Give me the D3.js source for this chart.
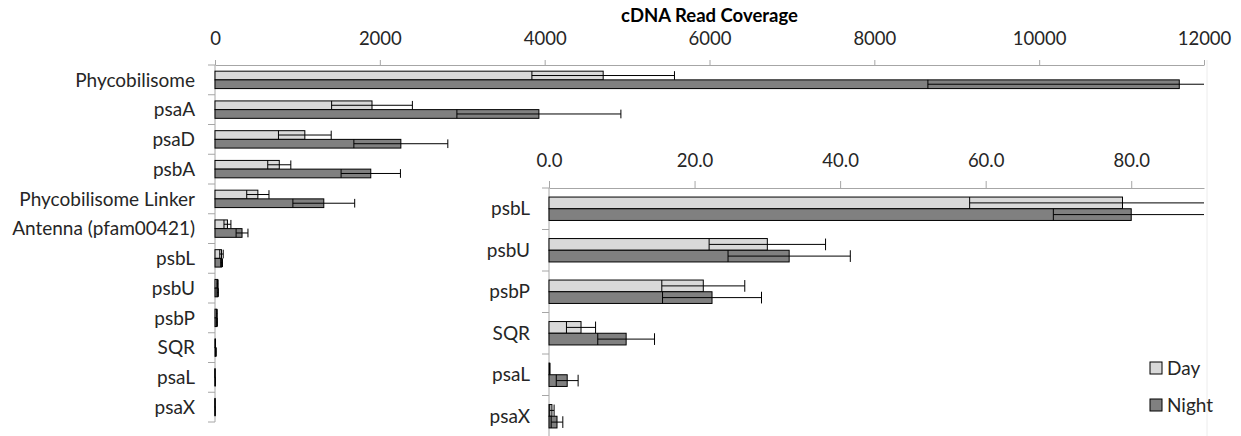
<!DOCTYPE html>
<html>
  <head>
    <meta charset="utf-8">
    <title>cDNA read coverage</title>
    <script src="https://cdn.jsdelivr.net/npm/d3@7"></script>
    <style>
      body { margin: 0; background: #fff; }
      svg { display: block; font-family: Lato, "Open Sans", sans-serif; }
      .label { font-size: 19px; fill: #262626; }
      .axis path, .axis line { stroke: #a6a6a6; }
      .axis text { font-size: 18.5px; fill: #262626; font-family: Lato, "Open Sans", sans-serif; }
      .title { font-size: 18.5px; font-weight: bold; fill: #000; }
    </style>
  </head>
  <body>
    <svg id="chart" width="1241" height="436"></svg>
    <script>
      // chart data
      var categories = ["Phycobilisome", "psaA", "psaD", "psbA", "Phycobilisome Linker", "Antenna (pfam00421)",
        "psbL", "psbU", "psbP", "SQR", "psaL", "psaX"];
      var dayMean = [4710, 1905, 1090, 780, 520, 151, 78.8, 30.0, 21.2, 4.4, 0.1, 0.4];
      var dayErr = [865, 490, 320, 140, 135, 42, 21, 8, 5.7, 2, 0, 0.3];
      var nightMean = [11700, 3930, 2255, 1890, 1320, 328, 80, 33, 22.4, 10.6, 2.5, 1.1];
      var nightErr = [3050, 995, 570, 360, 375, 72, 10.7, 8.4, 6.8, 3.9, 1.5, 0.8];
      var insetCategories = ["psbL", "psbU", "psbP", "SQR", "psaL", "psaX"];
      var mainTicks = [0, 2000, 4000, 6000, 8000, 10000, 12000];
      var insetTicks = [0, 20, 40, 60, 80];
      var seriesNames = ["Day", "Night"];
      var seriesColours = ["#d9d9d9", "#808080"];

      var rows = categories.map(function(c, i) {
        return { name: c, day: dayMean[i], dayErr: dayErr[i], night: nightMean[i], nightErr: nightErr[i] };
      });

      var svg = d3.select("#chart");

      // draw one bar panel (bars, error bars, axes)
      function panel(g, data, x, y, barH, labelPad, tickSize, tickPad, fmt, ticks) {
        var top = y.range()[0], bottom = y.range()[1];
        // top axis
        g.append("g")
          .attr("class", "axis")
          .attr("transform", "translate(0," + top + ")")
          .call(d3.axisTop(x).tickValues(ticks).tickFormat(fmt).tickSize(tickSize).tickSizeOuter(0).tickPadding(tickPad));
        // left axis line and category boundary ticks
        g.append("line")
          .attr("x1", x(0)).attr("x2", x(0))
          .attr("y1", top).attr("y2", bottom)
          .attr("stroke", "#a6a6a6");
        g.selectAll(".cattick")
          .data(d3.range(data.length + 1))
          .enter().append("line")
            .attr("x1", x(0) - 7).attr("x2", x(0))
            .attr("y1", function(i) { return top + i * y.step(); })
            .attr("y2", function(i) { return top + i * y.step(); })
            .attr("stroke", "#a6a6a6");
        // category labels
        g.selectAll(".label")
          .data(data)
          .enter().append("text")
            .attr("class", "label")
            .attr("x", x(0) - labelPad)
            .attr("y", function(d) { return y(d.name) + y.bandwidth() / 2; })
            .attr("dy", "0.35em")
            .attr("text-anchor", "end")
            .text(function(d) { return d.name; });
        var max = x.domain()[1];
        ["day", "night"].forEach(function(key, k) {
          var yOff = function(d) { return y(d.name) + y.bandwidth() / 2 - barH + k * barH; };
          g.selectAll(".bar-" + key)
            .data(data)
            .enter().append("rect")
              .attr("x", x(0))
              .attr("y", yOff)
              .attr("width", function(d) { return x(d[key]) - x(0); })
              .attr("height", barH)
              .attr("fill", seriesColours[k])
              .attr("stroke", "#000")
              .attr("stroke-width", 1);
          // error bars, clipped to the axis maximum
          var err = g.selectAll(".err-" + key)
            .data(data)
            .enter().append("g");
          err.append("line")
            .attr("x1", function(d) { return x(Math.max(0, d[key] - d[key + "Err"])); })
            .attr("x2", function(d) { return x(Math.min(max, d[key] + d[key + "Err"])); })
            .attr("y1", function(d) { return yOff(d) + barH / 2; })
            .attr("y2", function(d) { return yOff(d) + barH / 2; })
            .attr("stroke", "#000");
          err.selectAll("line.cap")
            .data(function(d) {
              var v = [d[key] - d[key + "Err"], d[key] + d[key + "Err"]]
                .filter(function(e) { return e >= 0 && e <= max; });
              return v.map(function(e) { return { v: e, d: d }; });
            })
            .enter().append("line")
              .attr("class", "cap")
              .attr("x1", function(c) { return x(c.v); })
              .attr("x2", function(c) { return x(c.v); })
              .attr("y1", function(c) { return yOff(c.d); })
              .attr("y2", function(c) { return yOff(c.d) + barH; })
              .attr("stroke", "#000");
        });
      }

      // main chart
      var xMain = d3.scaleLinear().domain([0, 12000]).range([215, 1204]);
      var yMain = d3.scaleBand().domain(categories).range([65, 422]);
      var mainGroup = svg.append("g");
      panel(mainGroup, rows, xMain, yMain, 8.7, 20, 5, 15, d3.format("d"), mainTicks);
      mainGroup.append("text")
        .attr("class", "title")
        .attr("x", (xMain.range()[0] + xMain.range()[1]) / 2)
        .attr("y", 22)
        .attr("text-anchor", "middle")
        .text("cDNA Read Coverage");

      // inset chart for the small genes
      var insetRows = rows.filter(function(d) { return insetCategories.indexOf(d.name) >= 0; });
      var xInset = d3.scaleLinear().domain([0, 90]).range([549, 1204]);
      var yInset = d3.scaleBand().domain(insetCategories).range([188, 437]);
      var insetGroup = svg.append("g");
      insetGroup.append("rect")
        .attr("x", 470).attr("y", 140)
        .attr("width", 1241 - 470).attr("height", 296)
        .attr("fill", "#fff");
      insetGroup.append("line")
        .attr("x1", 1207).attr("x2", 1207)
        .attr("y1", 60).attr("y2", 436)
        .attr("stroke", "#ececec");
      panel(insetGroup, insetRows, xInset, yInset, 11.7, 19, 7, 14, d3.format(".1f"), insetTicks);

      // legend
      var legend = svg.append("g")
        .attr("transform", "translate(1150, 362)");
      var item = legend.selectAll("g")
        .data(seriesNames)
        .enter().append("g")
          .attr("transform", function(d, i) { return "translate(0," + i * 37 + ")"; });
      item.append("rect")
        .attr("width", 12).attr("height", 12)
        .attr("fill", function(d, i) { return seriesColours[i]; })
        .attr("stroke", "#000");
      item.append("text")
        .attr("class", "label")
        .attr("x", 17)
        .attr("y", 6)
        .attr("dy", "0.35em")
        .text(function(d) { return d; });
    </script>
  </body>
</html>
